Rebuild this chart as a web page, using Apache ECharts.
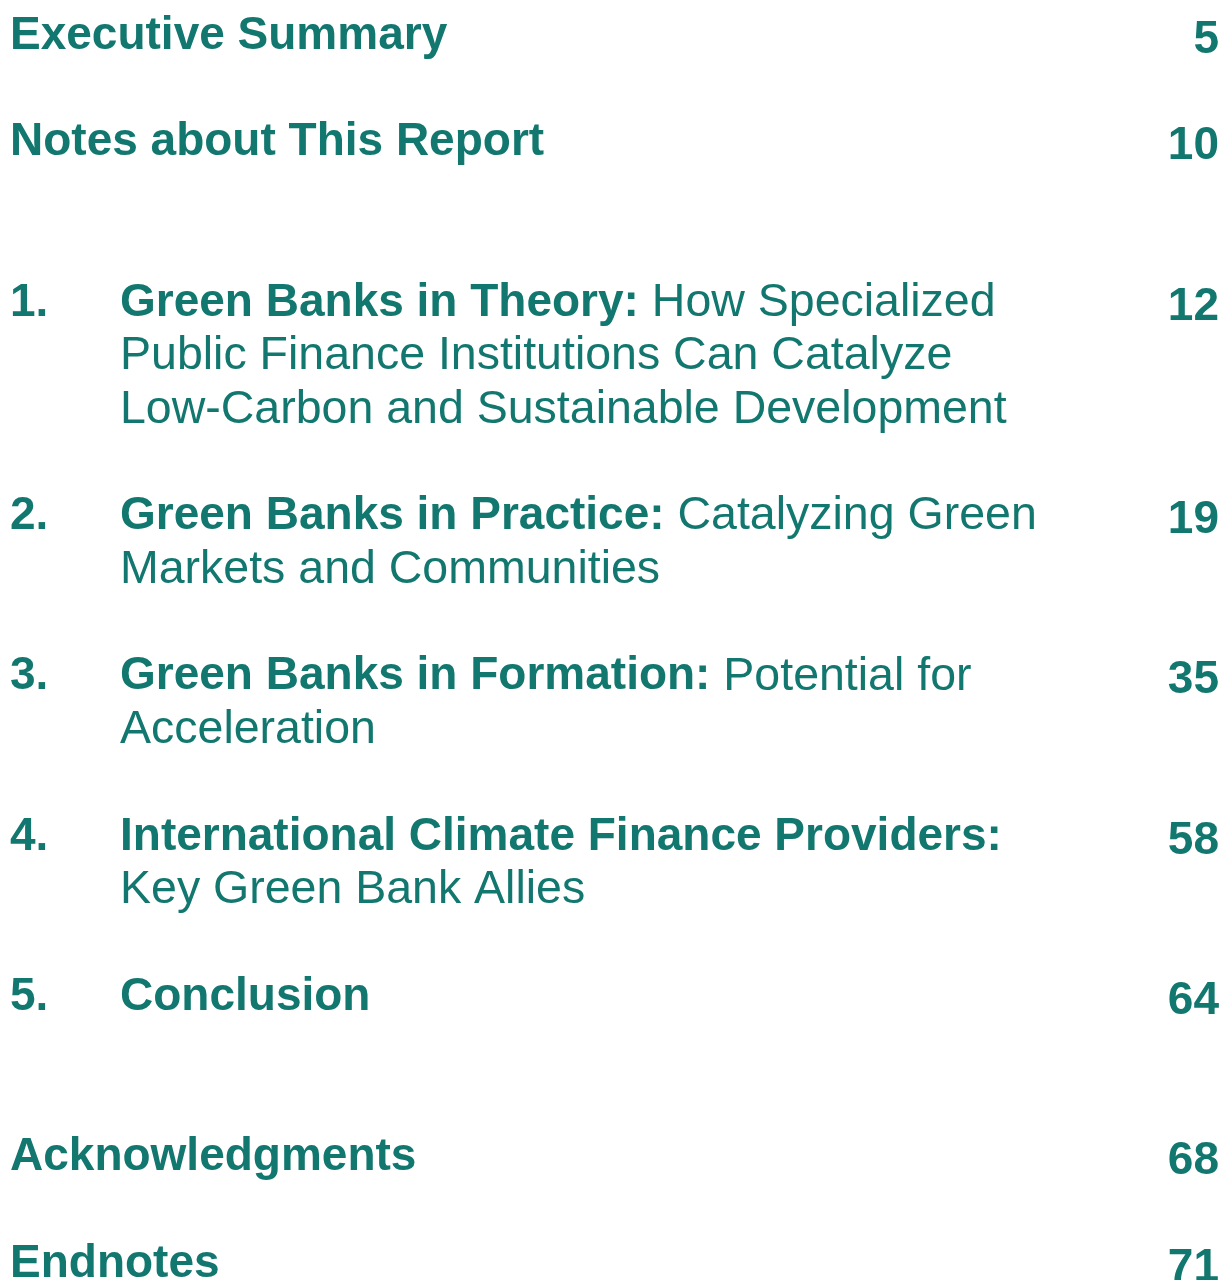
<!DOCTYPE html>
<html>
<head>
<meta charset="utf-8">
<script src="https://cdn.jsdelivr.net/npm/echarts@6/dist/echarts.min.js"></script>
<style>
  html, body { margin: 0; padding: 0; background: #fff; }
  #chart { width: 1223px; height: 1280px; }
</style>
</head>
<body>
<div id="chart"></div>
<script>
// table of contents entries
const numbers = ["", "", "1.", "2.", "3.", "4.", "5.", "", ""];
const boldTitles = [
  "Executive Summary",
  "Notes about This Report",
  "Green Banks in Theory:",
  "Green Banks in Practice:",
  "Green Banks in Formation:",
  "International Climate Finance Providers:",
  "Conclusion",
  "Acknowledgments",
  "Endnotes",
];
const subLines = [
  [],
  [],
  [" How Specialized", "Public Finance Institutions Can Catalyze", "Low-Carbon and Sustainable Development"],
  [" Catalyzing Green", "Markets and Communities"],
  [" Potential for", "Acceleration"],
  ["", "Key Green Bank Allies"],
  [],
  [],
  [],
];
const pages = ["5", "10", "12", "19", "35", "58", "64", "68", "71"];

const TEAL = "#12776f";
const FONT = "'Liberation Sans', Arial, Helvetica, sans-serif";
const BOLD_SIZE = 46;
const REG_SIZE = 46.5;
const LINE = 53.4;
const TOP = 36;

const chart = echarts.init(document.getElementById("chart"));

const elements = [];
let line = 0;
boldTitles.forEach((title, i) => {
  // extra blank line where front matter and numbered chapters meet
  if (i > 0 && (numbers[i] === "") !== (numbers[i - 1] === "")) line += 1;
  const y = TOP + LINE * line;
  const textX = numbers[i] ? 120 : 10;
  if (numbers[i]) {
    elements.push({
      type: "text", x: 10, y: y,
      style: { text: numbers[i], fill: TEAL, font: "bold " + BOLD_SIZE + "px " + FONT, verticalAlign: "middle" },
    });
  }
  const rest = subLines[i];
  const n = Math.max(rest.length, 1);
  for (let k = 0; k < n; k++) {
    let txt;
    if (k === 0) {
      txt = "{b|" + title + "}" + (rest[0] ? "{r|" + rest[0] + "}" : "");
    } else {
      txt = "{r|" + rest[k] + "}";
    }
    elements.push({
      type: "text", x: textX, y: y + LINE * k,
      style: {
        text: txt,
        verticalAlign: "middle",
        rich: {
          b: { fill: TEAL, fontFamily: FONT, fontWeight: "bold", fontSize: BOLD_SIZE },
          r: { fill: TEAL, fontFamily: FONT, fontWeight: "normal", fontSize: REG_SIZE },
        },
      },
    });
  }
  elements.push({
    type: "text", x: 1219, y: y + 4,
    style: { text: pages[i], fill: TEAL, font: "bold " + BOLD_SIZE + "px " + FONT, align: "right", verticalAlign: "middle" },
  });
  line += n + 1;
});

chart.setOption({
  backgroundColor: "#ffffff",
  animation: false,
  graphic: { elements: elements },
});
</script>
</body>
</html>
